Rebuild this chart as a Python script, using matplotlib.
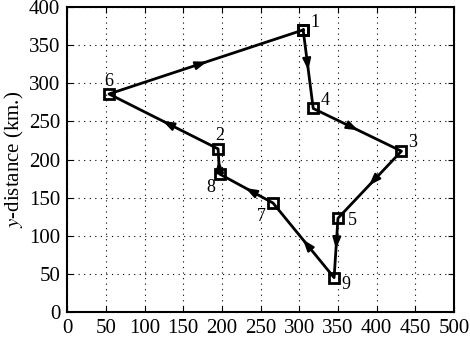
import numpy as np
import matplotlib.pyplot as plt

plt.rcParams['font.family'] = ['Liberation Serif', 'DejaVu Serif']
plt.rcParams['mathtext.fontset'] = 'stix'

# route order: 1 -> 4 -> 3 -> 5 -> 9 -> 7 -> 8 -> 2 -> 6 -> 1
labels = ['1', '4', '3', '5', '9', '7', '8', '2', '6', '1']
xs = [305, 318, 432, 350, 345, 266, 197, 195, 54, 305]
ys = [370, 267, 211, 123, 45, 143, 181, 214, 286, 370]
# label text positions
lab_x = [320, 334, 447, 369, 360, 251, 186, 197, 54]
lab_y = [380, 277, 223, 120, 36, 125, 163, 232, 303]

fig = plt.figure(figsize=(4.7, 3.38), dpi=100)
ax = fig.add_axes([0.143, 0.077, 0.823, 0.902])

ax.plot(xs, ys, color='black', lw=2, marker='s', ms=6.5, mfc='none', mew=2)

for i in range(len(xs) - 1):
    mx = (xs[i] + xs[i + 1]) / 2
    my = (ys[i] + ys[i + 1]) / 2
    dx = xs[i + 1] - xs[i]
    dy = ys[i + 1] - ys[i]
    n = np.hypot(dx, dy)
    ax.annotate('', xy=(mx + dx / n * 5, my + dy / n * 5),
                xytext=(mx - dx / n * 5, my - dy / n * 5),
                arrowprops=dict(arrowstyle='-|>,head_length=0.7,head_width=0.25',
                                color='black', lw=1.5))

for i in range(len(lab_x)):
    ax.text(lab_x[i], lab_y[i], labels[i], fontsize=13, ha='center', va='center')

ax.set_xlim(0, 500)
ax.set_ylim(0, 400)
ax.set_xticks(np.arange(0, 501, 50))
ax.set_yticks(np.arange(0, 401, 50))
ax.tick_params(direction='in', top=True, right=True, labelsize=15, length=4, pad=5)
ax.grid(True, color='black', linestyle=(0, (1, 4)), lw=0.8)
ax.set_ylabel('$y$-distance (km.)', fontsize=15, labelpad=2)
for s in ax.spines.values():
    s.set_linewidth(1.5)

fig.savefig('out.png', dpi=100)
